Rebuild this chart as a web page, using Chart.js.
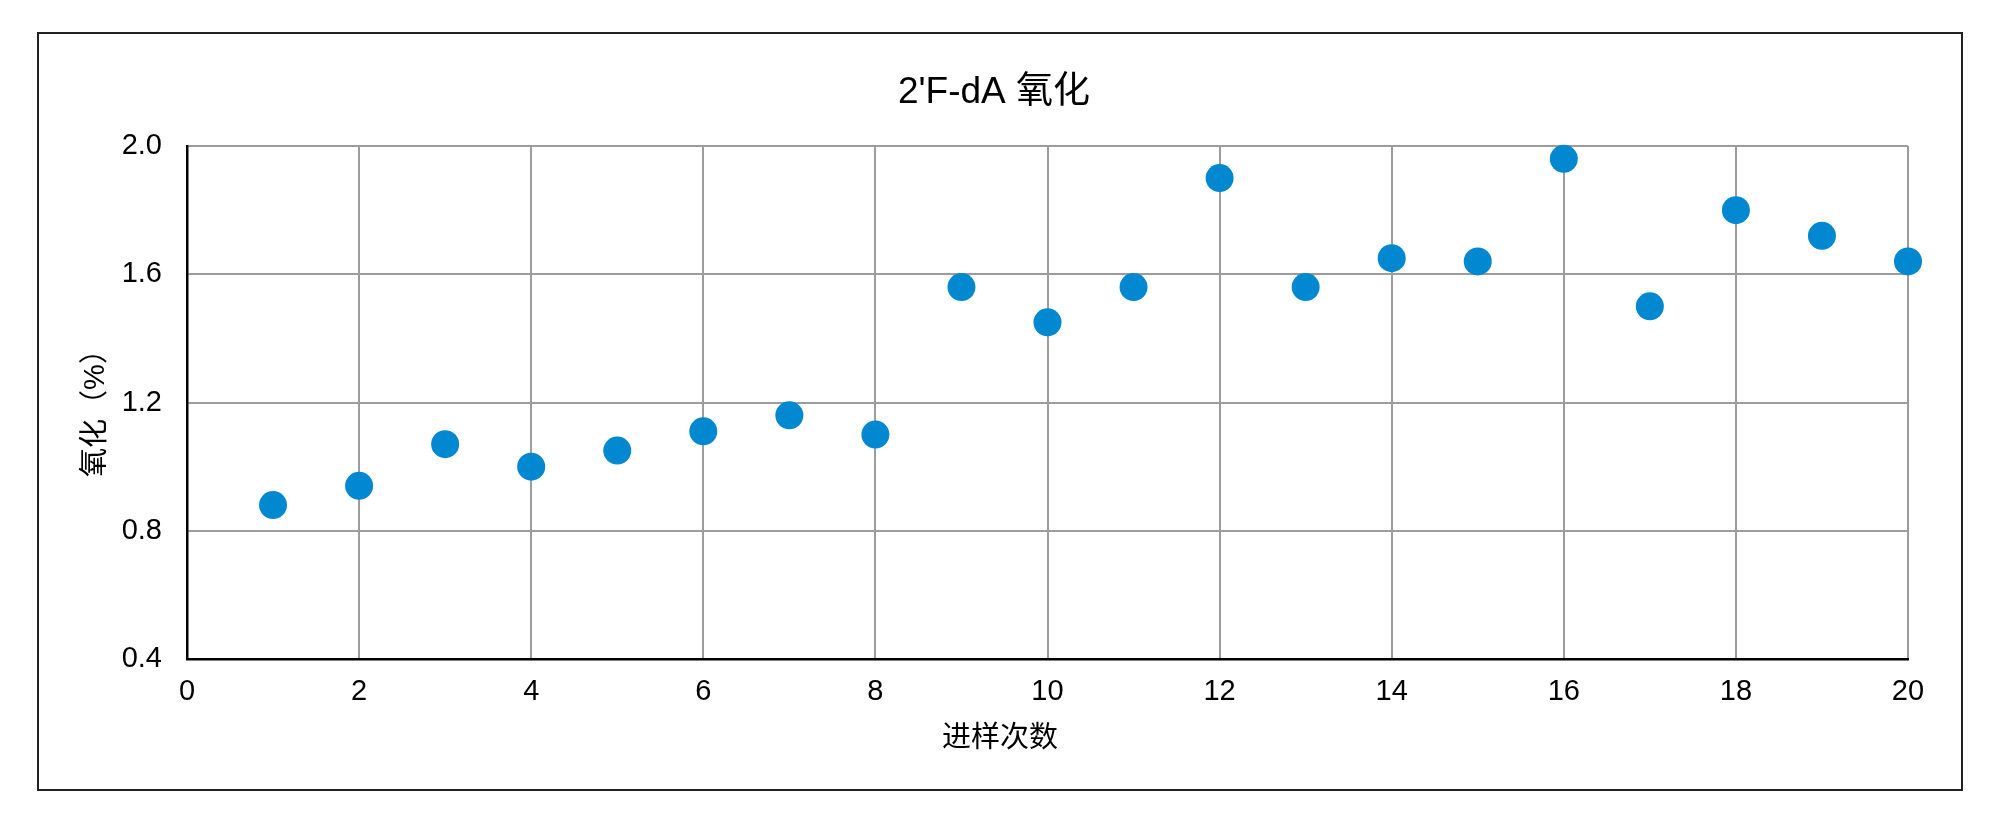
<!DOCTYPE html>
<html>
<head>
<meta charset="utf-8">
<title>2'F-dA 氧化</title>
<script src="https://cdn.jsdelivr.net/npm/chart.js@4.4.1/dist/chart.umd.min.js"></script>
<style>
  html, body { margin: 0; padding: 0; background: #fff; }
  #wrap { width: 2000px; height: 826px; }
</style>
</head>
<body>
<div id="wrap"><canvas id="myChart" width="2000" height="826"></canvas></div>
<script>
const runs = [1, 2, 3, 4, 5, 6, 7, 8, 9, 10, 11, 12, 13, 14, 15, 16, 17, 18, 19, 20];
const oxidation = [0.88, 0.94, 1.07, 1.00, 1.05, 1.11, 1.16, 1.10, 1.56, 1.45,
                   1.56, 1.90, 1.56, 1.65, 1.64, 1.96, 1.50, 1.80, 1.72, 1.64];
const xTicks = [0, 2, 4, 6, 8, 10, 12, 14, 16, 18, 20];
const yTicks = [0.4, 0.8, 1.2, 1.6, 2.0];
const xTitle = '进样次数';
const yTitle = '氧化（%）';

const fontFamily = '"Liberation Sans", Arial, "Noto Sans CJK SC", sans-serif';

// outer frame, and axis titles centred on the frame (as the source chart does)
const framePlugin = {
	id: 'frame',
	beforeDraw(chart) {
		const c = chart.ctx;
		c.save();
		c.fillStyle = '#fff';
		c.fillRect(0, 0, chart.width, chart.height);
		c.strokeStyle = '#222';
		c.lineWidth = 2;
		c.strokeRect(38, 33, 1924, 757);
		c.restore();
	},
	afterDraw(chart) {
		const c = chart.ctx;
		c.save();
		c.fillStyle = '#000';
		c.font = '29px ' + fontFamily;
		c.textAlign = 'center';
		c.textBaseline = 'middle';
		c.fillText(xTitle, 1000, 739);
		c.translate(96, 406);
		c.rotate(-Math.PI / 2);
		c.fillText(yTitle, 0, 0);
		c.restore();
	}
};

const ctx = document.getElementById('myChart').getContext('2d');

let scatterChart = new Chart(ctx, {
	type: 'scatter',
	data: {
		datasets: [{
			label: '氧化',
			data: runs.map((r, i) => ({ x: r, y: oxidation[i] })),
			backgroundColor: '#0288d1',
			borderWidth: 0,
			pointRadius: 14,
			pointHoverRadius: 14,
			clip: false
		}]
	},
	options: {
		responsive: false,
		devicePixelRatio: 1,
		animation: false,
		layout: { padding: { left: 0, right: 12, top: 0, bottom: 0 } },
		plugins: {
			legend: { display: false },
			tooltip: { enabled: false },
			title: {
				display: true,
				text: "2'F-dA 氧化",
				color: '#000',
				font: { family: fontFamily, size: 37, weight: 'normal', lineHeight: 1.2 },
				padding: { top: 71, bottom: 30.6 }
			}
		},
		scales: {
			x: {
				type: 'linear',
				min: 0,
				max: 20,
				afterBuildTicks(scale) {
					scale.ticks = xTicks.map(v => ({ value: v }));
				},
				afterFit(scale) { scale.height = 167; },
				ticks: {
					color: '#000',
					padding: 15.5,
					font: { family: fontFamily, size: 29 }
				},
				grid: { color: '#9c9c9c', lineWidth: 2, drawTicks: false },
				border: { color: '#000', width: 2.5 }
			},
			y: {
				min: 0.4,
				max: 2.0,
				afterBuildTicks(scale) {
					scale.ticks = yTicks.map(v => ({ value: v }));
				},
				afterFit(scale) { scale.width = 187; },
				ticks: {
					color: '#000',
					padding: 25,
					font: { family: fontFamily, size: 29 },
					callback: v => Number(v).toFixed(1)
				},
				grid: { color: '#9c9c9c', lineWidth: 2, drawTicks: false },
				border: { color: '#000', width: 2.5 }
			},
			// empty right-hand strip so the plot ends where the source plot ends
			yRight: {
				position: 'right',
				min: 0.4,
				max: 2.0,
				afterFit(scale) { scale.width = 80; },
				ticks: { display: false },
				grid: { display: false, drawTicks: false },
				border: { display: false }
			}
		}
	},
	plugins: [framePlugin]
});
</script>
</body>
</html>
